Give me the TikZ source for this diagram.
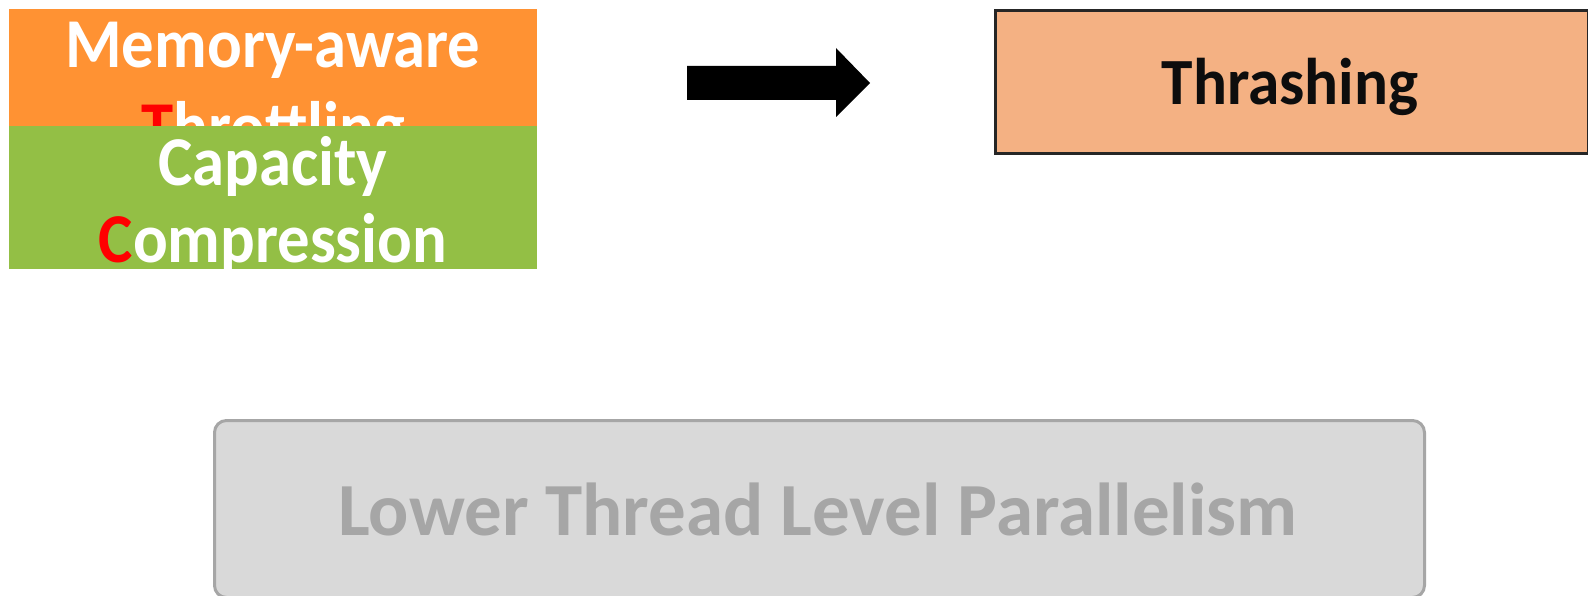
\documentclass[tikz,border=0pt]{standalone}
\usepackage{fontspec}
\setmainfont{Carlito}
\definecolor{throttleorange}{HTML}{FF9233}
\definecolor{compressgreen}{HTML}{93BF45}
\definecolor{thrashfill}{HTML}{F4B183}
\definecolor{thrashedge}{HTML}{262626}
\definecolor{tlpfill}{HTML}{D9D9D9}
\definecolor{tlpgray}{HTML}{A6A6A6}
\tikzset{
  flatbox/.style={rectangle, draw=none, inner sep=0pt, anchor=north west},
  boxtext/.style={anchor=base, inner sep=0pt, xscale=0.925, font=\bfseries\fontsize{70}{76}\selectfont, text=white},
}
\begin{document}
\begin{tikzpicture}[x=1pt,y=-1pt]
\useasboundingbox[fill=white] (0,0) rectangle (1588,596);

% Memory-aware Throttling (partly covered by the compression box)
\node[flatbox, fill=throttleorange, minimum width=528pt, minimum height=117pt] (mat) at (9,9) {};
\node[boxtext] (matA) at (273,68) {Memory-aware};
\node[boxtext] (matB) at (273,151) {\textcolor{red}{T}hrottling};

% Capacity Compression
\node[flatbox, fill=compressgreen, minimum width=528pt, minimum height=143pt] (cc) at (9,126) {};
\node[boxtext] (ccA) at (273,186) {Capacity};
\node[boxtext] (ccB) at (273,262) {\textcolor{red}{C}ompression};

% Block arrow
\fill[black] (687,66) -- (836,66) -- (836,48) -- (870,83) -- (836,117) -- (836,100) -- (687,100) -- cycle;

% Thrashing
\node[flatbox, draw=thrashedge, line width=3pt, fill=thrashfill, minimum width=593pt, minimum height=143pt] (thr) at (994,9) {};
\node[anchor=base, inner sep=0pt, xscale=0.96, font=\bfseries\fontsize{66}{80}\selectfont, text=black!95] (thrT) at (1290,105) {Thrashing};

% Lower Thread Level Parallelism
\node[flatbox, draw=tlpgray, line width=3pt, fill=tlpfill, rounded corners=12pt, minimum width=1210pt, minimum height=177pt] (tlp) at (213,419) {};
\node[anchor=base, inner sep=0pt, font=\bfseries\fontsize{75}{90}\selectfont, text=tlpgray] (tlpT) at (818,535) {Lower Thread Level Parallelism};
\end{tikzpicture}
\end{document}
